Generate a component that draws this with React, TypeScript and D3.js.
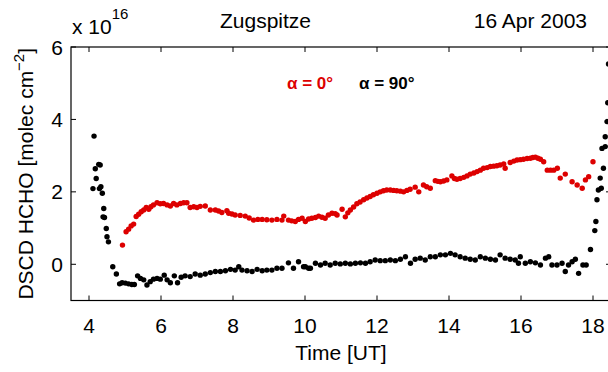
import React from "react";
import * as d3 from "d3";

// alpha = 0 deg (red) series: time [UT], DSCD [1e16 molec cm^-2]
const redTime = [4.93,5.03,5.10,5.17,5.24,5.31,5.38,5.45,5.52,5.59,5.66,5.72,5.79,5.89,5.98,6.07,6.17,6.26,6.35,6.44,6.54,6.63,6.72,6.81,6.91,7.00,7.09,7.23,7.37,7.51,7.60,7.69,7.83,7.88,7.97,8.06,8.20,8.34,8.45,8.57,8.69,8.81,8.94,9.08,9.22,9.36,9.41,9.54,9.63,9.73,9.82,9.92,10.01,10.10,10.19,10.29,10.38,10.47,10.56,10.65,10.75,10.84,10.89,11.03,11.12,11.19,11.26,11.35,11.44,11.53,11.63,11.72,11.81,11.90,12.00,12.09,12.18,12.27,12.37,12.46,12.55,12.65,12.74,12.83,12.92,13.06,13.16,13.29,13.38,13.48,13.62,13.69,13.76,13.85,13.94,14.08,14.15,14.22,14.31,14.41,14.50,14.59,14.69,14.78,14.87,14.96,15.06,15.15,15.24,15.33,15.42,15.52,15.56,15.70,15.80,15.89,15.98,16.07,16.17,16.26,16.33,16.40,16.47,16.54,16.63,16.73,16.82,16.91,17.01,17.09,17.23,17.42,17.56,17.70,17.79,17.88,18.00];
const redValue = [0.53,0.90,0.97,1.06,1.11,1.32,1.38,1.45,1.50,1.57,1.52,1.59,1.64,1.70,1.67,1.68,1.64,1.61,1.68,1.64,1.68,1.70,1.70,1.57,1.59,1.57,1.60,1.61,1.50,1.50,1.47,1.43,1.48,1.41,1.39,1.36,1.35,1.33,1.28,1.22,1.24,1.24,1.23,1.22,1.24,1.22,1.33,1.22,1.20,1.18,1.24,1.27,1.18,1.25,1.27,1.29,1.33,1.30,1.27,1.36,1.41,1.40,1.36,1.52,1.31,1.42,1.50,1.58,1.67,1.72,1.78,1.83,1.87,1.92,1.96,2.00,2.03,2.05,2.05,2.04,2.03,2.02,2.00,2.04,2.07,2.13,2.00,2.19,2.14,2.10,2.31,2.29,2.28,2.30,2.33,2.44,2.37,2.35,2.37,2.40,2.44,2.49,2.52,2.56,2.60,2.65,2.67,2.70,2.71,2.72,2.74,2.77,2.65,2.81,2.85,2.88,2.89,2.90,2.92,2.93,2.95,2.96,2.93,2.90,2.83,2.60,2.60,2.60,2.65,2.38,2.49,2.28,2.19,2.10,2.33,2.42,2.83];

// alpha = 90 deg (black) series
const blackTime = [4.11,4.14,4.175,4.20,4.27,4.29,4.31,4.33,4.37,4.39,4.41,4.43,4.48,4.50,4.54,4.66,4.76,4.85,4.92,5.01,5.10,5.19,5.26,5.35,5.43,5.52,5.61,5.70,5.79,5.89,5.98,6.09,6.17,6.26,6.37,6.46,6.56,6.67,6.81,6.95,7.09,7.23,7.37,7.51,7.65,7.79,7.93,8.06,8.16,8.25,8.39,8.53,8.67,8.81,8.94,9.08,9.22,9.36,9.54,9.68,9.82,9.96,10.01,10.10,10.15,10.29,10.43,10.56,10.70,10.84,10.98,11.12,11.26,11.40,11.54,11.68,11.81,11.95,12.09,12.23,12.37,12.51,12.65,12.79,12.93,13.06,13.20,13.34,13.48,13.62,13.76,13.90,14.04,14.17,14.31,14.45,14.59,14.73,14.87,15.01,15.15,15.29,15.42,15.56,15.70,15.84,15.93,15.98,16.12,16.26,16.40,16.54,16.68,16.77,16.86,17.00,17.14,17.23,17.32,17.42,17.51,17.60,17.72,17.81,17.93,18.05,18.08,18.11,18.15,18.20,18.23,18.25,18.29,18.34,18.34,18.39,18.41,18.43];
const blackValue = [2.09,3.54,2.64,2.37,2.76,2.09,2.74,2.14,1.96,1.31,1.54,1.29,0.99,0.76,0.62,-0.07,-0.27,-0.54,-0.51,-0.52,-0.54,-0.56,-0.56,-0.32,-0.39,-0.43,-0.57,-0.48,-0.41,-0.39,-0.41,-0.30,-0.43,-0.51,-0.32,-0.51,-0.36,-0.32,-0.34,-0.27,-0.30,-0.27,-0.23,-0.20,-0.20,-0.18,-0.14,-0.16,-0.07,-0.16,-0.18,-0.20,-0.14,-0.18,-0.16,-0.16,-0.11,-0.11,0.04,-0.11,0.07,-0.07,-0.07,-0.11,-0.11,0.03,-0.02,0.03,-0.02,0.03,0.01,0.03,0.01,0.03,0.04,0.03,0.07,0.12,0.10,0.10,0.12,0.10,0.14,0.21,0.03,0.14,0.17,0.12,0.21,0.21,0.26,0.26,0.30,0.26,0.21,0.17,0.14,0.12,0.21,0.17,0.14,0.12,0.26,0.17,0.14,0.12,0.03,0.21,0.03,0.07,0.04,-0.02,0.17,0.21,-0.02,-0.02,0.03,-0.20,-0.02,0.07,0.14,-0.25,-0.02,-0.02,0.41,0.93,1.18,1.78,2.05,2.38,2.10,3.20,2.65,3.25,3.52,3.94,4.46,5.53];

const xTicks = [4, 6, 8, 10, 12, 14, 16, 18];
const yTicks = [0, 2, 4, 6];

const title = "Zugspitze";
const dateLabel = "16 Apr 2003";

const W = 608;
const H = 372;
const FONT = "'Liberation Sans', Arial, Helvetica, sans-serif";
const RED = "#dd0000";

export default function App() {
  const x = d3.scaleLinear().domain([3.5, 18.5]).range([71, 611]);
  const y = d3.scaleLinear().domain([-1, 6]).range([300.5, 47]);
  const [x0, x1] = x.range();
  const [yb, yt] = y.range();
  const tl = 5;

  const red = redTime.map((t, i) => [t, redValue[i]]);
  const black = blackTime.map((t, i) => [t, blackValue[i]]);

  return (
    <svg width={W} height={H} style={{ position: "absolute", left: 0, top: 0, background: "#fff" }} fontFamily={FONT}>
      <defs>
        <clipPath id="plotclip">
          <rect x={x0} y={yt} width={x1 - x0} height={yb - yt} />
        </clipPath>
      </defs>
      <rect x={0} y={0} width={W} height={H} fill="#fff" />
      {/* data */}
      <g clipPath="url(#plotclip)">
        {black.map((d, i) => (
          <circle key={"b" + i} cx={x(d[0])} cy={y(d[1])} r={2.7} fill="#000" />
        ))}
        {red.map((d, i) => (
          <circle key={"r" + i} cx={x(d[0])} cy={y(d[1])} r={2.7} fill={RED} />
        ))}
      </g>
      {/* frame */}
      <rect x={x0} y={yt} width={x1 - x0} height={yb - yt} fill="none" stroke="#000" strokeWidth={1.2} />
      {xTicks.map((t) => (
        <g key={"xt" + t}>
          <line x1={x(t)} x2={x(t)} y1={yb} y2={yb - tl} stroke="#000" strokeWidth={1} />
          <line x1={x(t)} x2={x(t)} y1={yt} y2={yt + tl} stroke="#000" strokeWidth={1} />
          <text x={x(t)} y={333} textAnchor="middle" fontSize={21} fill="#000">{t}</text>
        </g>
      ))}
      {yTicks.map((t) => (
        <g key={"yt" + t}>
          <line x1={x0} x2={x0 + tl} y1={y(t)} y2={y(t)} stroke="#000" strokeWidth={1} />
          <line x1={x1} x2={x1 - tl} y1={y(t)} y2={y(t)} stroke="#000" strokeWidth={1} />
          <text x={63} y={y(t) + 7.5} textAnchor="end" fontSize={21} fill="#000">{t}</text>
        </g>
      ))}
      {/* exponent */}
      <text x={72} y={34} fontSize={21} fill="#000">
        x 10<tspan fontSize={15} dy={-15}>16</tspan>
      </text>
      {/* title */}
      <text x={220} y={28} fontSize={21} fill="#000">{title}</text>
      <text x={587} y={28} fontSize={21} fill="#000" textAnchor="end">{dateLabel}</text>
      {/* legend */}
      <text x={287} y={89} fontSize={17} fontWeight="bold" fill={RED}>α = 0°</text>
      <text x={359} y={89} fontSize={17} fontWeight="bold" fill="#000">α = 90°</text>
      {/* axis labels */}
      <text x={(x0 + x1) / 2} y={360} textAnchor="middle" fontSize={21} fill="#000">Time [UT]</text>
      <text transform={`translate(33,${(yb + yt) / 2}) rotate(-90)`} textAnchor="middle" fontSize={21} fill="#000">
        DSCD HCHO [molec cm<tspan fontSize={15} dy={-9}>−2</tspan><tspan dy={9}>]</tspan>
      </text>
    </svg>
  );
}
